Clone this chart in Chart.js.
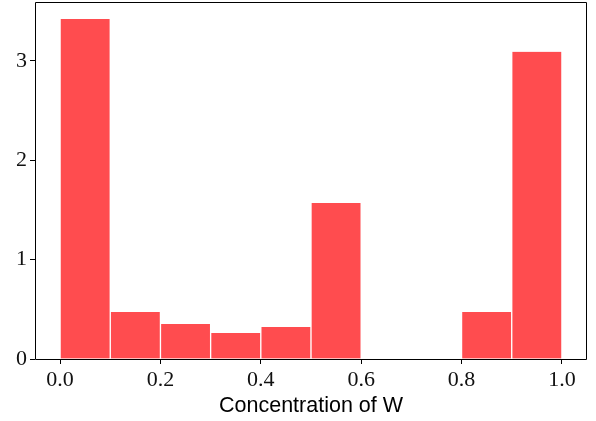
<!DOCTYPE html>
<html><head><meta charset="utf-8">
<script src="https://cdn.jsdelivr.net/npm/chart.js@4/dist/chart.umd.min.js"></script>
<style>html,body{margin:0;padding:0;background:#fff}#wrap{width:596px;height:421px}</style>
</head><body><div id="wrap"><canvas id="c" width="596" height="421"></canvas></div>
<script>
const binCenters = [0.05, 0.15, 0.25, 0.35, 0.45, 0.55, 0.65, 0.75, 0.85, 0.95];
const density = [3.42, 0.473, 0.352, 0.262, 0.322, 1.57, 0, 0, 0.473, 3.09];
const xTicks = [0.0, 0.2, 0.4, 0.6, 0.8, 1.0];
const yTicks = [0, 1, 2, 3];
const xLabel = 'Concentration of W';

const frame = {
  id: 'frame',
  afterDraw(chart) {
    const a = chart.chartArea, ctx = chart.ctx;
    const L = Math.floor(a.left) + 0.5, R = Math.floor(a.right) - 0.5;
    const T = Math.floor(a.top) + 0.5, B = Math.floor(a.bottom) + 0.5;
    ctx.save();
    ctx.strokeStyle = '#000';
    ctx.lineWidth = 1;
    ctx.beginPath();
    ctx.moveTo(L, T); ctx.lineTo(R, T); ctx.lineTo(R, B); ctx.lineTo(L, B); ctx.closePath();
    ctx.stroke();
    ctx.restore();
  }
};

new Chart(document.getElementById('c'), {
  type: 'bar',
  data: {
    datasets: [{
      data: binCenters.map((x, i) => ({x: x, y: density[i]})),
      backgroundColor: '#ff4c4f',
      borderColor: '#ffffff',
      borderWidth: {left: 1, right: 1, top: 0, bottom: 0},
      borderSkipped: false,
      barPercentage: 1,
      categoryPercentage: 1
    }]
  },
  options: {
    responsive: false,
    animation: false,
    layout: {padding: {top: 2, right: 9, left: 0, bottom: 0}},
    plugins: {legend: {display: false}, tooltip: {enabled: false}},
    scales: {
      x: {
        type: 'linear',
        offset: false,
        min: -0.05, max: 1.05,
        afterBuildTicks: s => { s.ticks = xTicks.map(v => ({value: v})); },
        afterFit: s => { s.height = 62; s.paddingLeft = 0; s.paddingRight = 0; },
        ticks: {
          color: '#111', font: {family: 'Liberation Serif', size: 22}, padding: 3,
          callback: v => Number(v).toFixed(1), maxRotation: 0
        },
        grid: {offset: false, drawOnChartArea: false, drawTicks: true, tickLength: 5, color: '#000'},
        border: {display: false},
        title: {display: true, text: xLabel, color: '#000', font: {family: 'Liberation Sans', size: 21.5}, padding: {top: 0, bottom: 2}}
      },
      y: {
        type: 'linear',
        min: 0, max: 3.591,
        afterBuildTicks: s => { s.ticks = yTicks.map(v => ({value: v})); },
        afterFit: s => { s.width = 35; s.paddingTop = 0; s.paddingBottom = 0; },
        ticks: {color: '#111', font: {family: 'Liberation Serif', size: 22}, padding: 3},
        grid: {offset: false, drawOnChartArea: false, drawTicks: true, tickLength: 5, color: '#000'},
        border: {display: false}
      }
    }
  },
  plugins: [frame]
});
</script></body></html>
